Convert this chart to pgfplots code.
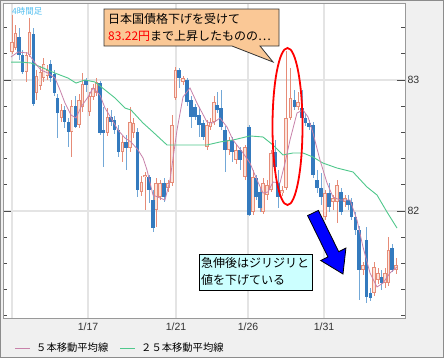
\documentclass[border=0pt]{standalone}
\usepackage{pgfplots}
\pgfplotsset{compat=1.18}
\usepackage{pgfplotstable}
\usepackage{fontspec}
\setmainfont{Liberation Sans}
\newfontfamily\jp{Noto Sans CJK JP}
\definecolor{upc}{RGB}{230,140,120}
\definecolor{upfill}{RGB}{252,228,220}
\definecolor{dnc}{RGB}{52,122,190}
\definecolor{dnw}{RGB}{115,168,215}
\definecolor{mafive}{RGB}{200,130,170}
\definecolor{matwf}{RGB}{80,200,140}
\definecolor{bgc}{RGB}{240,240,240}
\definecolor{gridc}{RGB}{228,228,228}
\definecolor{peach}{RGB}{250,200,150}
\definecolor{lcyan}{RGB}{204,255,255}
\definecolor{lbl}{RGB}{80,190,240}

% up candles: x, body low, body high, low, high
\pgfplotstableread{
x bl bh l h
12 83.214 83.290 83.198 83.496
15.5 83.244 83.359 83.229 83.420
26.1 83.061 83.191 82.985 83.214
29.6 83.191 83.366 83.176 83.473
36.6 82.901 83.031 82.847 83.076
40.2 82.954 83.061 82.924 83.107
43.7 83.015 83.122 82.985 83.168
47.2 83.031 83.076 83.000 83.115
61.3 82.710 82.771 82.679 82.817
71.8 82.603 82.802 82.412 82.847
78.9 82.657 82.847 82.634 82.893
82.4 82.794 82.969 82.756 83.053
89.4 82.756 82.878 82.725 82.908
93.0 82.870 82.939 82.847 82.969
96.5 82.901 82.985 82.878 83.015
107.5 82.595 82.718 82.573 82.786
122.5 82.450 82.527 82.374 82.573
130 82.481 82.679 82.450 82.794
133.5 82.595 82.672 82.557 82.710
141.5 82.145 82.221 82.115 82.267
145 82.260 82.275 82.008 82.298
156 82.008 82.214 81.878 82.252
160 82.107 82.214 82.084 82.237
168 82.176 82.214 82.145 82.237
172 82.214 82.657 82.191 82.733
175.5 82.863 83.076 82.847 83.099
183 82.985 83.015 82.962 83.031
207 82.489 82.657 82.466 82.695
210.5 82.641 82.679 82.618 82.710
214 82.679 82.832 82.657 82.878
229 82.466 82.542 82.428 82.565
236 82.389 82.466 82.359 82.504
245 82.260 82.489 82.237 82.504
253 81.992 82.260 81.969 82.313
263 81.992 82.214 81.977 82.252
267 82.122 82.198 82.084 82.237
271 82.160 82.443 82.145 82.466
282 82.137 82.160 82.115 82.191
286 82.176 82.710 82.160 83.220
290.5 82.710 82.863 82.695 83.092
298 82.794 82.832 82.771 82.908
325 81.954 82.137 81.931 82.160
333 82.069 82.099 82.008 82.122
337 82.069 82.198 81.908 82.237
345 82.069 82.099 82.031 82.122
363 81.550 81.588 81.512 81.611
374 81.374 81.573 81.351 81.611
378 81.473 81.527 81.443 81.565
385 81.450 81.527 81.412 81.565
388.5 81.450 81.702 81.428 81.802
396 81.550 81.588 81.519 81.641
}\uptable

% down candles: x, body low, body high, low, high
\pgfplotstableread{
x bl bh l h
19 83.191 83.328 83.153 83.397
22.6 83.061 83.191 83.046 83.229
33.1 82.817 83.351 82.802 83.397
50.7 83.015 83.122 82.985 83.153
54.2 82.901 83.046 82.878 83.076
57.8 82.748 82.863 82.557 82.893
64.8 82.679 82.771 82.634 82.802
68.3 82.603 82.679 82.489 82.710
75.4 82.641 82.802 82.634 82.878
85.9 82.962 83.000 82.908 83.015
100 82.595 82.977 82.580 82.992
103.5 82.595 82.618 82.336 82.794
111 82.679 82.718 82.649 82.771
114.5 82.618 82.695 82.588 82.725
118.5 82.450 82.618 82.412 82.657
126 82.481 82.527 82.313 82.580
137.5 82.160 82.603 82.107 82.634
149 82.160 82.260 82.061 82.275
153 81.870 82.084 81.840 82.160
164 82.107 82.214 82.069 82.252
179 83.015 83.076 82.939 83.092
187 82.832 83.000 82.802 83.015
191 82.718 82.847 82.634 82.878
195 82.718 82.794 82.695 82.817
199 82.657 82.733 82.565 82.794
203 82.565 82.672 82.542 82.695
217 82.771 82.809 82.748 82.908
221 82.641 82.786 82.618 82.924
225 82.466 82.618 82.298 82.649
232 82.450 82.542 82.374 82.565
240 82.389 82.466 82.313 82.489
249 81.969 82.641 81.962 82.657
256 82.107 82.252 82.084 82.275
260 82.023 82.145 81.992 82.176
275 82.336 82.450 82.298 82.542
278 82.107 82.214 82.023 82.313
294.5 82.794 82.847 82.771 82.924
302 82.710 82.786 82.695 82.924
305.5 82.672 82.710 82.649 82.741
309 82.641 82.672 82.618 82.695
313 82.275 82.657 82.252 82.679
317 82.176 82.237 82.137 82.313
321 82.107 82.176 82.046 82.290
329 82.031 82.137 81.992 82.214
341 81.992 82.145 81.969 82.176
348 82.046 82.084 82.008 82.122
351.5 81.954 82.069 81.931 82.099
355.5 81.855 81.954 81.817 81.992
359 81.550 81.855 81.321 81.886
366.5 81.344 81.779 81.298 81.878
370.5 81.336 81.374 81.313 81.412
381.5 81.450 81.496 81.397 81.550
392 81.550 81.718 81.534 81.748
}\dntable

\begin{document}
\begin{tikzpicture}
\useasboundingbox (0,0) rectangle (447pt,360pt);
\fill[white] (0,0) rectangle (447pt,360pt);
\fill[bgc] (0.5pt,2.5pt) rectangle (443.5pt,359.5pt);
\draw[gray!90, line width=0.8pt] (0.5pt,2.5pt) rectangle (443.5pt,359.5pt);

\begin{axis}[
  at={(3pt,42pt)}, anchor=south west,
  width=402pt, height=315pt, scale only axis,
  xmin=3, xmax=405, ymin=81.183, ymax=83.588,
  axis background/.style={fill=white},
  axis line style={draw=gray!80, line width=0.9pt},
  xtick={12,88,176,248,324}, xticklabels={,1/17,1/21,1/26,1/31},
  xtick style={draw=none},
  xmajorgrids, ymajorgrids,
  grid style={draw=gridc, line width=1.3pt},
  ytick={82,83}, yticklabels={82,83},
  minor ytick={81.2,81.4,81.6,81.8,82.2,82.4,82.6,82.8,83.2,83.4},
  ytick pos=both, yticklabel pos=right,
  tick align=inside,
  major tick length=8pt, minor tick length=4pt,
  ytick style={draw=black!70, line width=0.8pt},
  minor tick style={draw=black!70, line width=0.8pt},
  ticklabel style={font=\fontsize{10.5}{12}\selectfont, text=black!80},
  xticklabel style={yshift=-1pt},
  yticklabel style={xshift=-1pt},
]
% up candles: wicks, bodies, hollow fill
\addplot[draw=none, mark=none, forget plot,
  error bars/.cd, y dir=both, y explicit, error mark=none,
  error bar style={draw=upc, line width=0.7pt}]
  table[x=x, y expr={(\thisrow{l}+\thisrow{h})/2}, y error expr={(\thisrow{h}-\thisrow{l})/2}] {\uptable};
\addplot[draw=none, mark=none, forget plot,
  error bars/.cd, y dir=both, y explicit, error mark=none,
  error bar style={draw=upc, line width=3.2pt, line cap=butt}]
  table[x=x, y expr={(\thisrow{bl}+\thisrow{bh})/2}, y error expr={(\thisrow{bh}-\thisrow{bl})/2}] {\uptable};
\addplot[draw=none, mark=none, forget plot,
  error bars/.cd, y dir=both, y explicit, error mark=none,
  error bar style={draw=upfill, line width=1.6pt, line cap=butt}]
  table[x=x, y expr={(\thisrow{bl}+\thisrow{bh})/2}, y error expr={max((\thisrow{bh}-\thisrow{bl})/2-0.0065,0)}] {\uptable};
% down candles
\addplot[draw=none, mark=none, forget plot,
  error bars/.cd, y dir=both, y explicit, error mark=none,
  error bar style={draw=dnw, line width=0.7pt}]
  table[x=x, y expr={(\thisrow{l}+\thisrow{h})/2}, y error expr={(\thisrow{h}-\thisrow{l})/2}] {\dntable};
\addplot[draw=none, mark=none, forget plot,
  error bars/.cd, y dir=both, y explicit, error mark=none,
  error bar style={draw=dnc, line width=3.2pt, line cap=butt}]
  table[x=x, y expr={(\thisrow{bl}+\thisrow{bh})/2}, y error expr={(\thisrow{bh}-\thisrow{bl})/2}] {\dntable};

% 25-period moving average
\addplot[matwf, line width=0.9pt, mark=none] coordinates {
(11,83.137)(21,83.137)(31,83.130)(41,83.099)(55,83.053)(68,83.015)(76,82.977)
(85,83.000)(95,82.985)(105,82.924)(115,82.863)(125,82.786)(131,82.771)(143,82.672)
(153,82.603)(167,82.504)(183,82.504)(207,82.504)(220,82.527)(233,82.542)(250,82.573)
(263,82.565)(273,82.504)(283,82.428)(293,82.443)(303,82.443)(313,82.412)(323,82.366)
(337,82.328)(353,82.298)(367,82.183)(377,82.122)(387,81.992)(397,81.870)};
% 5-period moving average
\addplot[mafive, line width=0.8pt, mark=none] coordinates {
(11,83.176)(18,83.214)(28,83.206)(35,83.130)(41,83.076)(48,83.053)(55,83.015)
(60,82.924)(65,82.824)(71,82.733)(76,82.710)(81,82.794)(88,82.870)(93,82.939)
(100,82.885)(105,82.786)(111,82.710)(118,82.618)(125,82.557)(131,82.527)(138,82.466)
(143,82.405)(147,82.313)(153,82.122)(160,82.099)(165,82.084)(170,82.237)(177,82.618)
(183,82.870)(190,82.939)(197,82.824)(207,82.679)(213,82.672)(220,82.710)(227,82.641)
(233,82.542)(243,82.443)(250,82.366)(257,82.237)(263,82.137)(268,82.145)(273,82.221)
(280,82.214)(285,82.366)(290,82.542)(297,82.748)(303,82.771)(308,82.718)(313,82.595)
(320,82.389)(327,82.214)(333,82.107)(340,82.084)(350,82.084)(357,81.931)(363,81.725)
(370,81.527)(377,81.420)(383,81.450)(390,81.527)(397,81.573)};
\end{axis}

\begin{scope}[x=1pt, y=-1pt, yshift=360pt]
% top-left label
\node[anchor=west, inner sep=0, text=lbl] at (12,11) {\jp\fontsize{8.5}{9}\selectfont 4時間足};
% callout
\draw[black!80, fill=peach, line width=0.8pt] (104,9) -- (279,9) -- (279,46) -- (260,46) -- (273,62) -- (232,46) -- (104,46) -- cycle;
\node[anchor=west, inner sep=0] at (108,19) {\jp\fontsize{12}{14}\selectfont 日本国債格下げを受けて};
\node[anchor=west, inner sep=0] at (108,36) {\jp\fontsize{12}{14}\selectfont \textcolor{red}{83.22円}まで上昇したものの…};
% ellipse
\draw[red, line width=1.8pt] (287.5,126.5) ellipse [x radius=15, y radius=78.5];
% cyan box
\draw[black, fill=lcyan, line width=0.8pt] (199,254) rectangle (312,290);
\node[anchor=west, inner sep=0] at (201,263) {\jp\fontsize{12}{14}\selectfont 急伸後はジリジリと};
\node[anchor=west, inner sep=0] at (201,280) {\jp\fontsize{12}{14}\selectfont 値を下げている};
% blue arrow
\draw[black, fill=blue, line width=0.8pt] (307.6,215.6) -- (318.4,210.4) -- (338.7,251.7) -- (345.9,248.1) -- (343,274) -- (320.7,260.5) -- (327.9,256.9) -- cycle;
% legend
\draw[mafive, line width=0.8pt] (15,348) -- (30,348);
\node[anchor=west, inner sep=0] at (36,348) {\jp\fontsize{10.3}{12}\selectfont ５本移動平均線};
\draw[matwf, line width=0.8pt] (120,348) -- (135,348);
\node[anchor=west, inner sep=0] at (141,348) {\jp\fontsize{10.3}{12}\selectfont ２５本移動平均線};
\end{scope}
\end{tikzpicture}
\end{document}
